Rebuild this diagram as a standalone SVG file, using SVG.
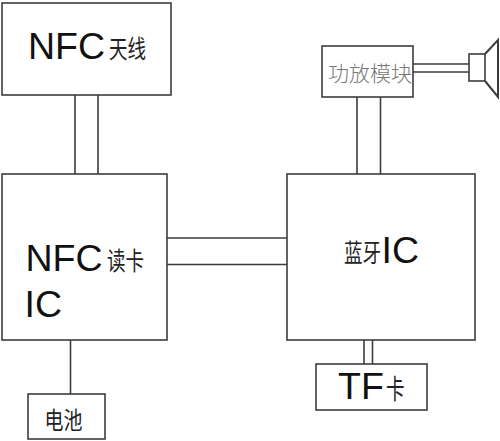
<svg xmlns="http://www.w3.org/2000/svg" width="500" height="441" viewBox="0 0 500 441">
<style>
.b{fill:#fff;stroke:#3c3c3c;stroke-width:1.6}
.c{fill:none;stroke:#3c3c3c;stroke-width:1.6}
text{font-family:"Liberation Sans","Noto Sans CJK SC",sans-serif;fill:#111}
.l{font-size:37.500px}
.z{font-family:"Noto Sans CJK SC","Liberation Sans",sans-serif;font-size:18.500px;font-weight:400;fill:#222}
</style>
<rect width="500" height="441" fill="#fff"/>
<g id="connectors">
<path class="c" d="M75 95V174M98 95V174"/>
<path class="c" d="M167 238H287M167 264.500H287"/>
<path class="c" d="M357 97V174M380.500 97V174"/>
<path class="c" d="M413 64H469M413 72H469"/>
<path class="c" d="M70.500 340V394"/>
<path class="c" d="M364 340V364M372.500 340V364"/>
</g>
<g id="nfc-antenna"><rect class="b" x="2" y="3" width="169" height="92"/><text class="l" x="28" y="59">NFC</text><text class="z" transform="translate(109 57.500) scale(1 1.350)">天线</text></g>
<g id="nfc-reader"><rect class="b" x="2" y="174" width="165" height="166"/><text class="l" x="25.500" y="271">NFC</text><text class="z" transform="translate(107 270) scale(1 1.350)">读卡</text><text class="l" x="24.500" y="317">IC</text></g>
<g id="bluetooth-ic"><rect class="b" x="287" y="174" width="188" height="166"/><text class="z" transform="translate(344 262) scale(1 1.350)">蓝牙</text><text class="l" x="381.500" y="263">IC</text></g>
<g id="amp"><rect class="b" x="322" y="46" width="91" height="51"/><text class="z" x="328" y="80.500" style="font-size:21px;fill:#777;font-weight:300">功放模块</text></g>
<g id="speaker"><rect class="b" x="469" y="54" width="16" height="27"/><path class="c" d="M485 54L498 40V97L485 81" style="stroke-width:2"/></g>
<g id="battery"><rect class="b" x="28" y="394" width="77" height="45"/><text class="z" transform="translate(44.500 429) scale(1 1.250)" style="font-size:19px">电池</text></g>
<g id="tf-card"><rect class="b" x="316" y="364" width="111" height="46"/><text class="l" x="338" y="399">TF</text><text class="z" transform="translate(386 399) scale(1 1.450)">卡</text></g>
</svg>
